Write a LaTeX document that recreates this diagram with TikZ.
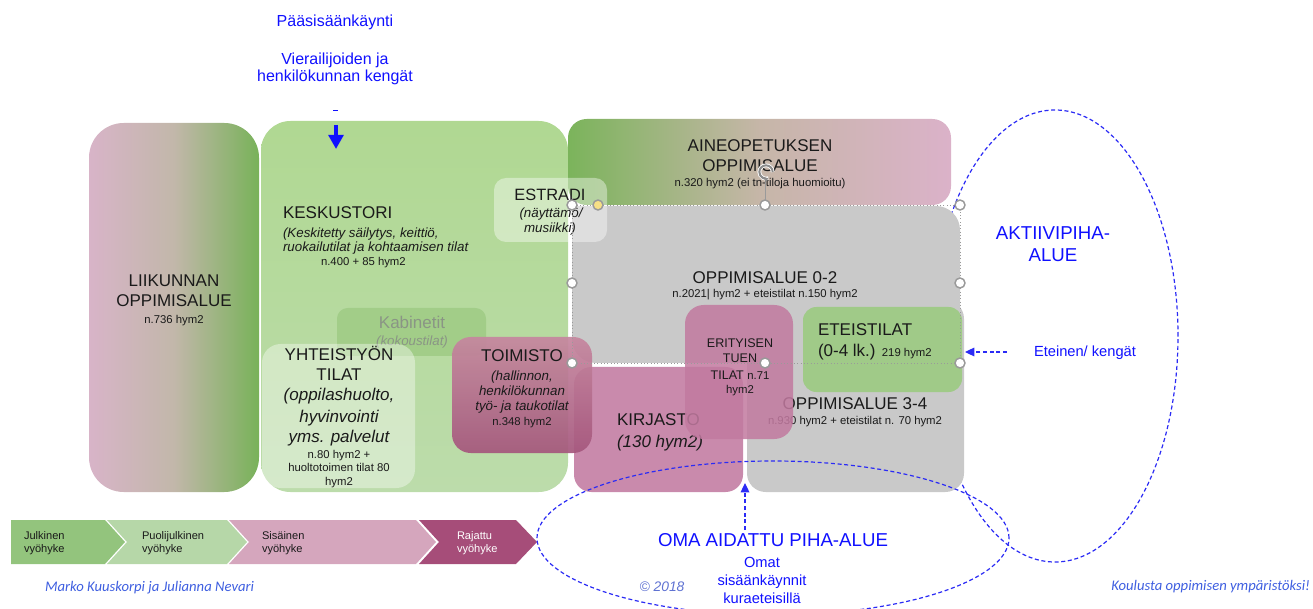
\documentclass[tikz,border=0pt]{standalone}
\usepackage{fontspec}
\setmainfont{Liberation Sans}
\newfontfamily\carlito{Carlito}
\usetikzlibrary{arrows.meta}
\definecolor{ink}{HTML}{1A1A1A}
\definecolor{liikL}{HTML}{D8B4C8}
\definecolor{liikM}{HTML}{C2B7AA}
\definecolor{liikR}{HTML}{78B259}
\definecolor{keskT}{HTML}{B0D892}
\definecolor{keskB}{HTML}{BCDCAB}
\definecolor{aineL}{HTML}{7BB45B}
\definecolor{aineM}{HTML}{C6B6A8}
\definecolor{aineR}{HTML}{DBB2C9}
\definecolor{gry}{HTML}{C9C9C9}
\definecolor{kab}{HTML}{A2CD88}
\definecolor{kabtxt}{HTML}{8A9585}
\definecolor{kirj}{HTML}{C98AAC}
\definecolor{toimT}{HTML}{C6879F}
\definecolor{toimB}{HTML}{A5577D}
\definecolor{erit}{HTML}{C27AA0}
\definecolor{etei}{HTML}{A0CA88}
\definecolor{chA}{HTML}{93C47D}
\definecolor{chB}{HTML}{B6D7A8}
\definecolor{chC}{HTML}{D5A6BD}
\definecolor{chD}{HTML}{A64D79}
\definecolor{lblue}{HTML}{1010FF}
\definecolor{eblue}{HTML}{2B2BF5}
\definecolor{fblue}{HTML}{3F5FE0}
\definecolor{cblue}{HTML}{5F72D2}
\definecolor{hgray}{HTML}{9A9A9A}
\definecolor{hyel}{HTML}{F6DF86}
\newcommand\szTitle{\fontsize{12.75pt}{15pt}\selectfont}
\newcommand\szBlue{\fontsize{12pt}{14pt}\selectfont}
\newcommand\szIt{\fontsize{10pt}{12pt}\selectfont}
\newcommand\szNum{\fontsize{8.5pt}{10pt}\selectfont}
\newcommand\szErit{\fontsize{9.4pt}{11pt}\selectfont}
\newcommand\szBig{\fontsize{14pt}{16pt}\selectfont}
\newcommand\szMid{\fontsize{11pt}{13pt}\selectfont}
\newcommand\szChev{\fontsize{8.3pt}{10pt}\selectfont}
\begin{document}
\begin{tikzpicture}[x=0.75pt,y=-0.75pt,
  t/.style={anchor=base, inner sep=0pt, outer sep=0pt, text=ink},
  tl/.style={t, anchor=base west},
  tr/.style={t, anchor=base east},
  bl/.style={t, text=lblue},
  handle/.style={circle, draw=hgray, fill=white, line width=1.1pt, minimum size=7.5pt, inner sep=0pt},
  dashblue/.style={draw=eblue, line width=0.9pt, dash pattern=on 3pt off 2pt},
  ttl/.style={t, font=\szTitle},
  itl/.style={t, font=\szIt\itshape},
  num/.style={t, font=\szNum},
]
\useasboundingbox (0,0) rectangle (1313,609);
\clip (0,0) rectangle (1313,609);

% big yard ellipse (behind the building)
\draw[dashblue] (1055,336) ellipse [x radius=92.25pt, y radius=169.5pt];

% ---- areas
\shade[left color=liikL, right color=liikR, middle color=liikM, rounded corners=26pt] (89,123) rectangle (259,492);
\shade[top color=keskT, bottom color=keskB, rounded corners=22pt] (261,121) rectangle (568,492);
\shade[left color=aineL, right color=aineR, middle color=aineM, rounded corners=14pt] (568,119) rectangle (951,205);
\fill[gry, rounded corners=14pt] (747,300) rectangle (964,492);
\fill[gry, rounded corners=18pt] (572,206) rectangle (960,363);
\fill[gry] (572,206) rectangle (612,250);
\fill[kab, rounded corners=8pt] (337,308) rectangle (486,356);
\node[t, font=\szTitle, text=kabtxt] (kabT) at (412,329) {Kabinetit};
\node[t, font=\szIt\itshape, text=kabtxt] (kabS) at (412,346) {(kokoustilat)};
\fill[white, fill opacity=0.38, rounded corners=14pt] (262,344) rectangle (415,488);
\fill[white, fill opacity=0.4, rounded corners=9pt] (494,178) rectangle (607,242);
\fill[kirj, rounded corners=13pt] (574,367) rectangle (743,492);
\shade[top color=toimT, bottom color=toimB, opacity=0.93, rounded corners=14pt] (452,337) rectangle (592,453);

% texts under the ERITYISEN box
\node[tl, font=\szTitle] (kirjT) at (617,426) {KIRJASTO};
\node[tl, font=\szTitle\itshape] (kirjS) at (617,447) {(130 hym2)};
\node[ttl] (o34T) at (855,409) {OPPIMISALUE 3-4};
\node[num] (o34S) at (855,424) {n.930 hym2 + eteistilat n. 70 hym2};

\fill[erit, fill opacity=0.86, rounded corners=14pt] (685,305) rectangle (793,439);
\fill[etei, rounded corners=10pt] (803,307) rectangle (962,392);

% ---- texts
\node[ttl] (liik1) at (174,287) {LIIKUNNAN};
\node[ttl] (liik2) at (174,307) {OPPIMISALUE};
\node[num] (liik3) at (174,324) {n.736 hym2};

\node[tl, font=\szTitle] (kesk1) at (283,219) {KESKUSTORI};
\node[tl, font=\szIt\itshape] (kesk2) at (283,238) {(Keskitetty säilytys, keittiö,};
\node[tl, font=\szIt\itshape] (kesk3) at (283,252) {ruokailutilat ja kohtaamisen tilat};
\node[tl, font=\szNum] (kesk4) at (321,266) {n.400 + 85 hym2};

\node[t, font=\fontsize{12.3pt}{14pt}\selectfont] (est1) at (550,201) {ESTRADI};
\node[itl] (est2) at (551,218) {(näyttämö/};
\node[itl] (est3) at (550,233) {musiikki)};

\node[ttl] (aine1) at (760,152) {AINEOPETUKSEN};
\node[ttl] (aine2) at (760,172) {OPPIMISALUE};
\node[num] (aine3) at (760,187) {n.320 hym2 (ei tn-tiloja huomioitu)};

\node[ttl] (o02T) at (765,284) {OPPIMISALUE 0-2};
\node[num] (o02S) at (765,298) {n.2021| hym2 + eteistilat n.150 hym2};

\node[ttl] (yht1) at (339,361) {YHTEISTYÖN};
\node[ttl] (yht2) at (339,381) {TILAT};
\node[t, font=\szTitle\itshape] (yht3) at (339,401) {(oppilashuolto,};
\node[t, font=\szTitle\itshape] (yht4) at (339,422) {hyvinvointi};
\node[t, font=\szTitle\itshape] (yht5) at (339,442) {yms. palvelut};
\node[num] (yht6) at (339,458) {n.80 hym2 +};
\node[num] (yht7) at (339,471) {huoltotoimen tilat 80};
\node[num] (yht8) at (339,485) {hym2};

\node[ttl] (toim1) at (522,362) {TOIMISTO};
\node[itl] (toim2) at (522,381) {(hallinnon,};
\node[itl] (toim3) at (522,396) {henkilökunnan};
\node[itl] (toim4) at (522,411) {työ- ja taukotilat};
\node[num] (toim5) at (522,425) {n.348 hym2};

\node[t, font=\szErit] (eri1) at (740,348) {ERITYISEN};
\node[t, font=\szErit] (eri2) at (740,363) {TUEN};
\node[t, font=\szErit] (eri3) at (740,379) {TILAT {\szNum n.71}};
\node[num] (eri4) at (740,393) {hym2};

\node[tl, font=\szTitle] (ete1) at (818,336) {ETEISTILAT};
\node[tl, font=\szTitle] (ete2) at (818,357) {(0-4 lk.) {\szNum 219 hym2}};

% ---- selection frame and handles
\draw[hgray, dotted, line width=0.5pt] (572,205) rectangle (960,363);
\coordinate (rotC) at (766,172);
\coordinate (rotS) at (765,180);
\coordinate (rotE) at (765,205);
\draw[hgray, line width=0.7pt] (rotS) -- (rotE);
\draw[white, line width=2.8pt] (rotC) ++(5pt,0) arc[start angle=0, end angle=290, radius=5pt];
\draw[hgray!90!black, line width=1.5pt, -{Stealth[length=3.5pt,width=5pt]}] (rotC) ++(5pt,0) arc[start angle=0, end angle=290, radius=5pt];
\foreach \p/\n in {{(572,205)}/h1, {(765,205)}/h2, {(960,205)}/h3, {(572,283)}/h4, {(960,283)}/h5, {(572,363)}/h6, {(765,363)}/h7, {(960,363)}/h8}
  \node[handle] (\n) at \p {};
\node[handle, fill=hyel] (hy) at (598,205) {};

% ---- zone chevrons
\fill[chA] (11,520) -- (105,520) -- (125,542) -- (105,564) -- (11,564) -- cycle;
\fill[chB] (107,520) -- (227,520) -- (247,542) -- (227,564) -- (107,564) -- (127,542) -- cycle;
\fill[chC] (229,520) -- (416,520) -- (436,542) -- (416,564) -- (229,564) -- (249,542) -- cycle;
\fill[chD] (419,520) -- (516,520) -- (537,542) -- (516,564) -- (419,564) -- (439,542) -- cycle;
\node[tl, font=\szChev] (z1a) at (24,539) {Julkinen};
\node[tl, font=\szChev] (z1b) at (24,552) {vyöhyke};
\node[tl, font=\szChev] (z2a) at (142,539) {Puolijulkinen};
\node[tl, font=\szChev] (z2b) at (142,552) {vyöhyke};
\node[tl, font=\szChev] (z3a) at (262,539) {Sisäinen};
\node[tl, font=\szChev] (z3b) at (262,552) {vyöhyke};
\node[tl, font=\szChev, text=white] (z4a) at (457,539) {Rajattu};
\node[tl, font=\szChev, text=white] (z4b) at (457,552) {vyöhyke};

% ---- own yard ellipse (in front)
\draw[dashblue] (773,538) ellipse [x radius=177pt, y radius=57.75pt];

% ---- blue labels and arrows
\node[bl, font=\szBlue] (main1) at (335,27) {Pääsisäänkäynti};
\node[bl, font=\szBlue] (main2) at (335,65) {Vierailijoiden ja};
\node[bl, font=\szBlue] (main3) at (335,82) {henkilökunnan kengät};
\coordinate (dashA) at (333,110);
\coordinate (dashB) at (338,110);
\draw[lblue, line width=0.6pt] (dashA) -- (dashB);
\coordinate (entS) at (336,125);
\coordinate (entE) at (336,149);
\draw[lblue, line width=2.6pt, -{Triangle[length=10.5pt,width=11pt]}] (entS) -- (entE);

\node[bl, font=\szBig] (akt1) at (1053,240) {AKTIIVIPIHA-};
\node[bl, font=\szBig] (akt2) at (1053,262) {ALUE};

\node[tl, text=lblue, font=\szMid] (etlbl) at (1034,357) {Eteinen/ kengät};
\coordinate (etS) at (1007,352);
\coordinate (etE) at (965,352);
\draw[dashblue, -{Triangle[length=7pt,width=6.5pt]}] (etS) -- (etE);

\node[bl, font=\szBig] (oma) at (773,546) {OMA AIDATTU PIHA-ALUE};
\node[bl, font=\szMid] (om1) at (762,567) {Omat};
\node[bl, font=\szMid] (om2) at (762,585) {sisäänkäynnit};
\node[bl, font=\szMid] (om3) at (762,603) {kuraeteisillä};
\coordinate (omS) at (745,530);
\coordinate (omE) at (745,483);
\draw[dashblue, -{Triangle[length=7pt,width=6.5pt]}] (omS) -- (omE);

% ---- footer
\node[tl, text=fblue, font=\carlito\fontsize{11pt}{13pt}\selectfont\itshape] (auth) at (45,591) {Marko Kuuskorpi ja Julianna Nevari};
\node[t, text=cblue, font=\fontsize{10.4pt}{12pt}\selectfont\itshape] (copy) at (662,591) {© 2018};
\node[tr, text=fblue, font=\carlito\fontsize{11pt}{13pt}\selectfont\itshape] (motto) at (1310,590) {Koulusta oppimisen ympäristöksi!};
\end{tikzpicture}
\end{document}
